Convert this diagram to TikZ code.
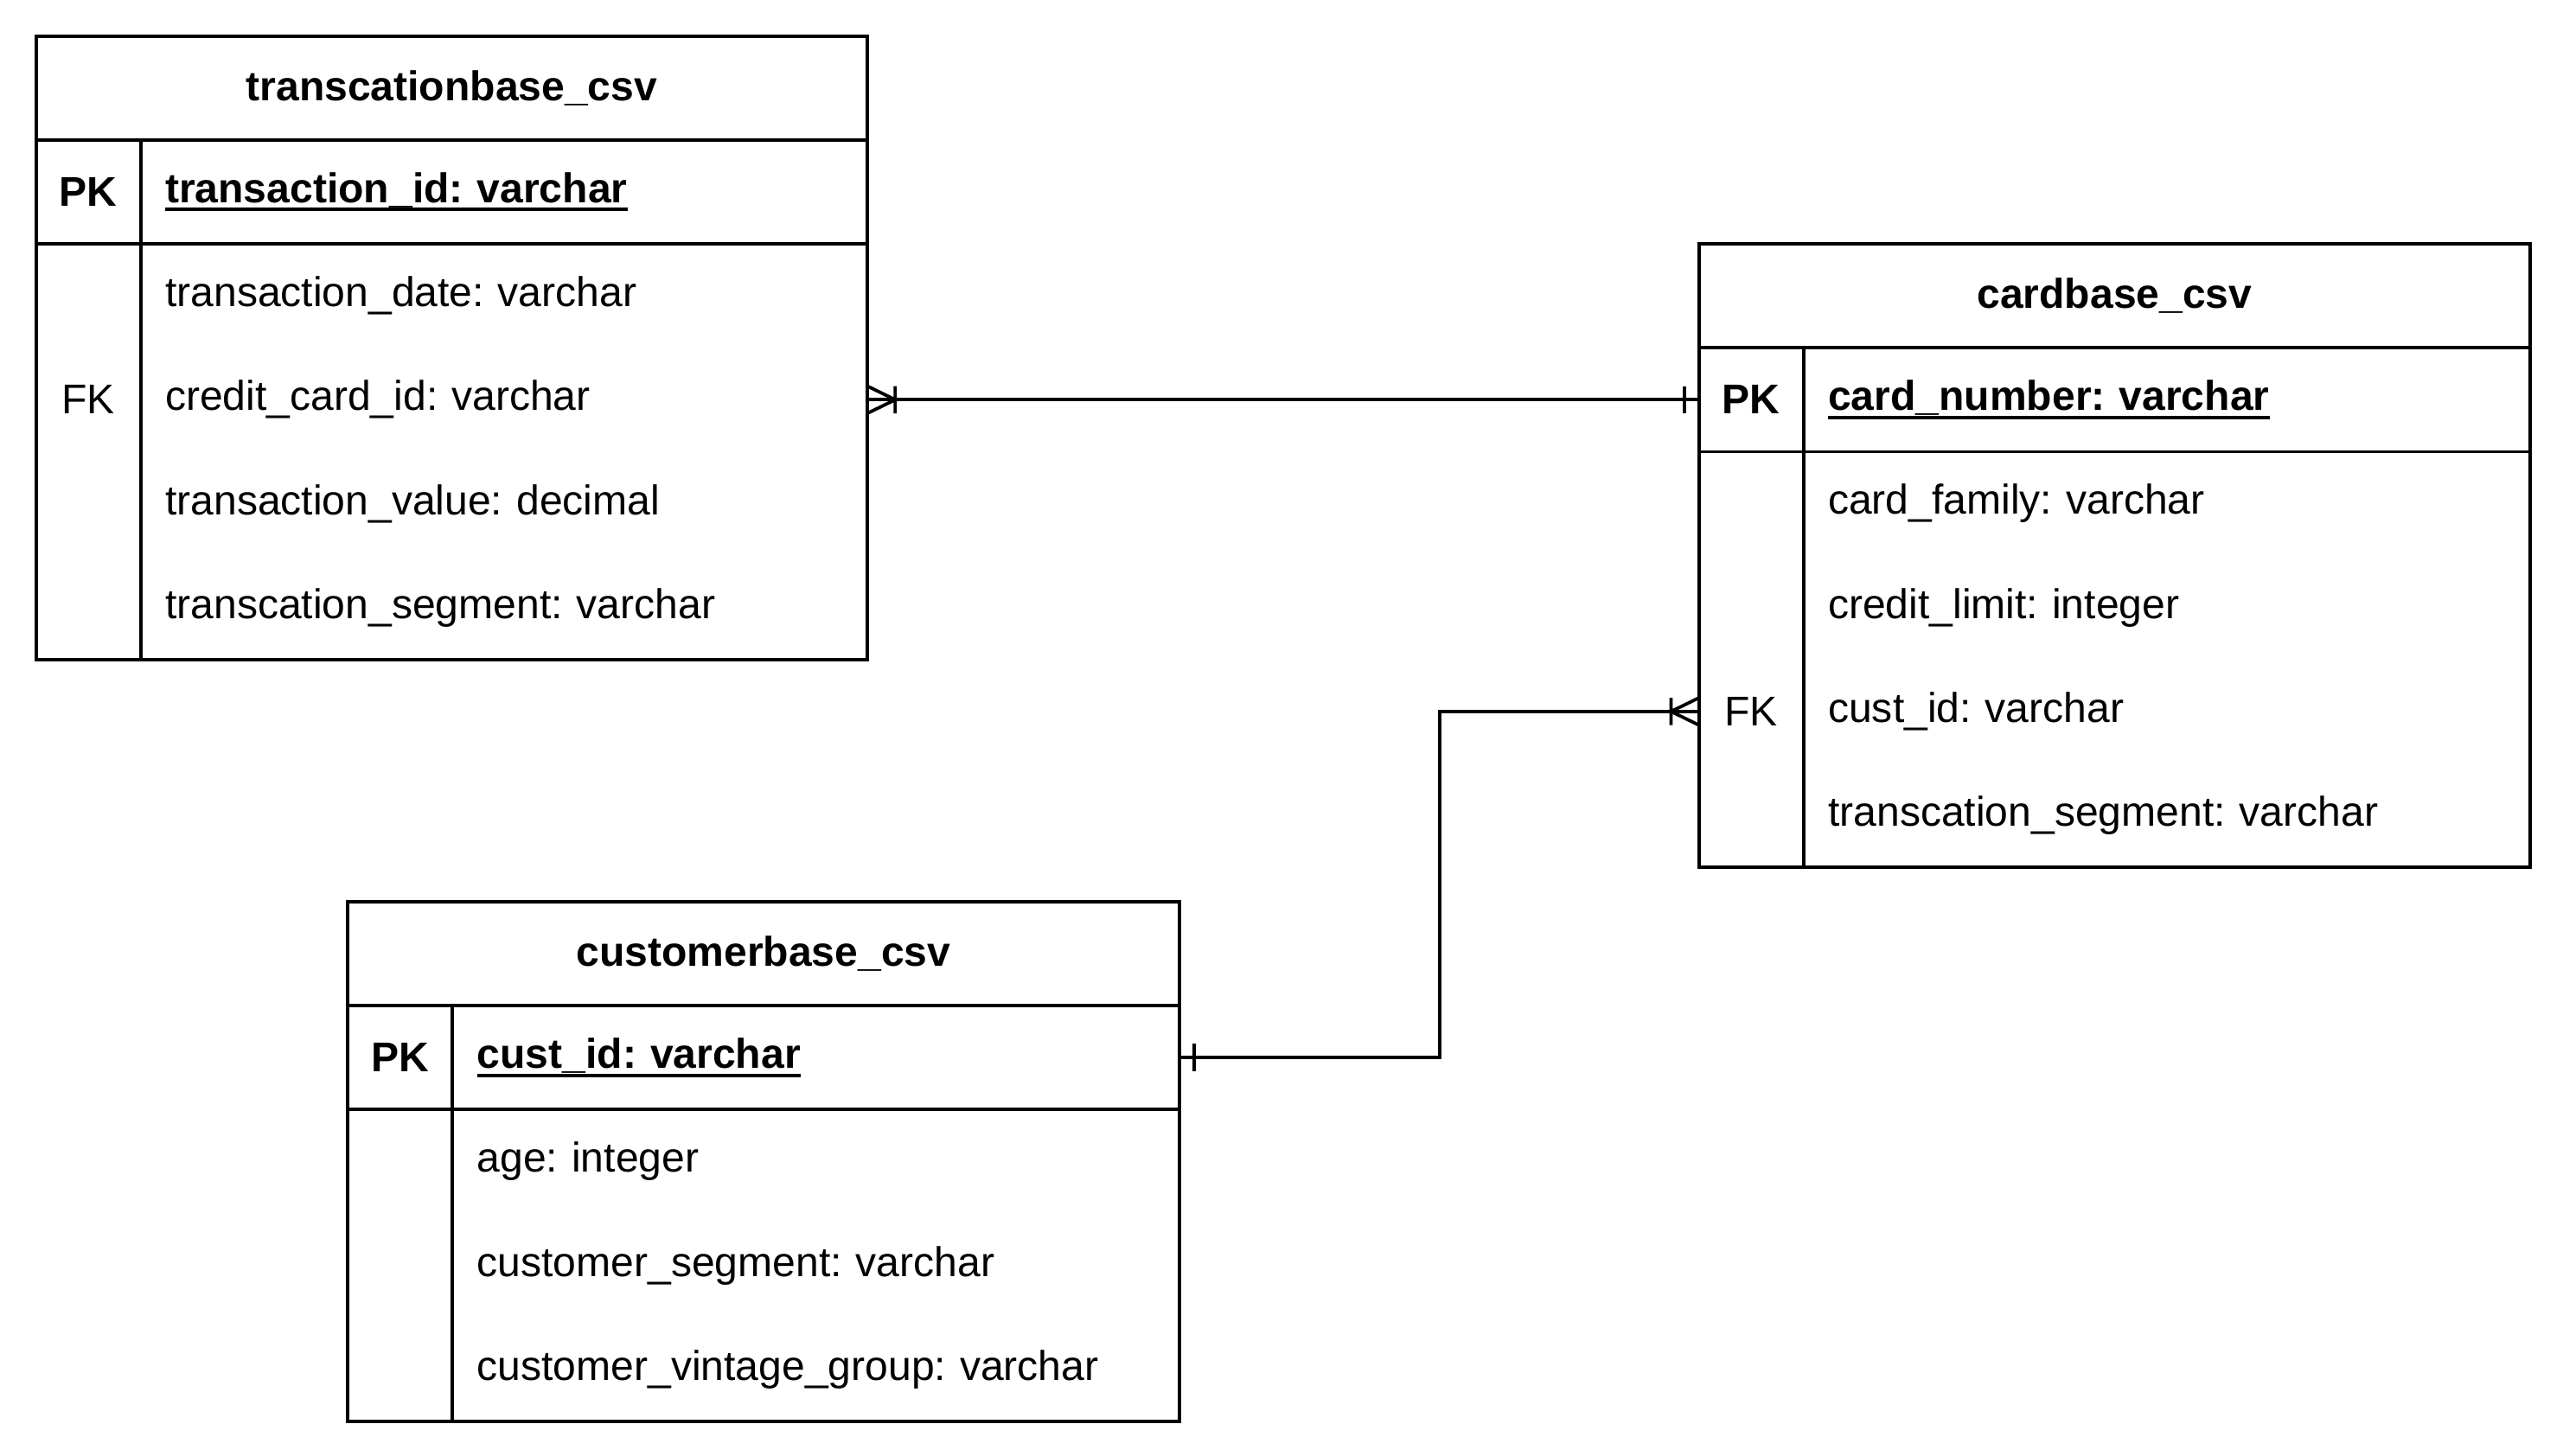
\documentclass[tikz,border=0pt]{standalone}
\usepackage{fontspec}
\setmainfont{Liberation Sans}
\usetikzlibrary{positioning}

\frenchspacing
\newcommand{\erfont}{\fontsize{12.7pt}{15pt}\selectfont}
% underline that sits at the level of the underscores
\newsavebox{\keyulbox}
\newcommand{\keyuline}[1]{\sbox{\keyulbox}{#1}\rlap{\usebox{\keyulbox}}\rule[-2.6pt]{\wd\keyulbox}{1pt}}

\begin{document}
\begin{tikzpicture}[x=0.5pt, y=-0.5pt,
		% styles for the table parts
		tablehead/.style={draw, line width=1pt, outer sep=0pt, minimum width=254pt, minimum height=31.75pt, inner sep=0pt, font=\erfont\bfseries},
		keycell/.style={draw, line width=1pt, outer sep=0pt, minimum width=32pt, minimum height=31.75pt, inner sep=0pt, font=\erfont},
		pkcell/.style={draw, line width=1pt, outer sep=0pt, text width=207pt, inner xsep=7.5pt, inner ysep=0pt, minimum height=31.75pt, align=left, font=\erfont\bfseries},
		bodycell/.style={draw, line width=1pt, outer sep=0pt, minimum height=#1, inner sep=0pt},
		fieldrow/.style={outer sep=0pt, text width=207pt, inner xsep=7.5pt, inner ysep=0pt, minimum height=31.75pt, align=left, anchor=north west, font=\erfont},
		keylabel/.style={outer sep=0pt, minimum width=32pt, inner sep=0pt, font=\erfont},
		relation/.style={line width=1pt},
		% ends of the relations
		manyend/.pic={\draw[relation] (0pt,4.15pt) -- (8.5pt,0pt) -- (0pt,-4.15pt) (8.5pt,4.15pt) -- (8.5pt,-4.15pt);},
		oneend/.pic={\draw[relation] (4.5pt,4.15pt) -- (4.5pt,-4.15pt);}
		]
		\useasboundingbox (0,0) rectangle (1566,889.6);
		
		% --- transaction table ---
		\node[tablehead] (thead) at (276,53.75) {transcationbase\_csv};
		\node[keycell, below right=0pt of thead.south west] (tpkkey) {\bfseries PK};
		\node[pkcell, right=0pt of tpkkey] (tpk) {\keyuline{transaction\_id: varchar}};
		\node[bodycell=127pt, minimum width=32pt, below=0pt of tpkkey] (tbodykey) {};
		\node[bodycell=127pt, minimum width=222pt, right=0pt of tbodykey] (tbody) {};
		\foreach \fld [count=\i] in {transaction\_date: varchar, credit\_card\_id: varchar, transaction\_value: decimal, transcation\_segment: varchar}
			\node[fieldrow] (trow\i) at ([yshift={-(\i-1)*31.75pt}]tbody.north west) {\fld};
		\node[keylabel] (tfk) at (tbodykey |- trow2) {FK};
		
		% --- card table ---
		\node[tablehead] (chead) at (1292,180.75) {cardbase\_csv};
		\node[keycell, below right=0pt of chead.south west] (cpkkey) {\bfseries PK};
		\node[pkcell, right=0pt of cpkkey] (cpk) {\keyuline{card\_number: varchar}};
		\node[bodycell=127pt, minimum width=32pt, below=0pt of cpkkey] (cbodykey) {};
		\node[bodycell=127pt, minimum width=222pt, right=0pt of cbodykey] (cbody) {};
		\foreach \fld [count=\i] in {card\_family: varchar, credit\_limit: integer, cust\_id: varchar, transcation\_segment: varchar}
			\node[fieldrow] (crow\i) at ([yshift={-(\i-1)*31.75pt}]cbody.north west) {\fld};
		\node[keylabel] (cfk) at (cbodykey |- crow3) {FK};
		
		% --- customer table ---
		\node[tablehead] (uhead) at (466.5,582.75) {customerbase\_csv};
		\node[keycell, below right=0pt of uhead.south west] (upkkey) {\bfseries PK};
		\node[pkcell, right=0pt of upkkey] (upk) {\keyuline{cust\_id: varchar}};
		\node[bodycell=95.25pt, minimum width=32pt, below=0pt of upkkey] (ubodykey) {};
		\node[bodycell=95.25pt, minimum width=222pt, right=0pt of ubodykey] (ubody) {};
		\foreach \fld [count=\i] in {age: integer, customer\_segment: varchar, customer\_vintage\_group: varchar}
			\node[fieldrow] (urow\i) at ([yshift={-(\i-1)*31.75pt}]ubody.north west) {\fld};
		
		% --- relations ---
		\draw[relation] (trow2.east) -- (cpkkey.west);
		\pic at (trow2.east) {manyend};
		\pic[xscale=-1] at (cpkkey.west) {oneend};
		
		\draw[relation] (upk.east) -- ++(159,0) |- (cfk.west);
		\pic at (upk.east) {oneend};
		\pic[xscale=-1] at (cfk.west) {manyend};
	\end{tikzpicture}
\end{document}
